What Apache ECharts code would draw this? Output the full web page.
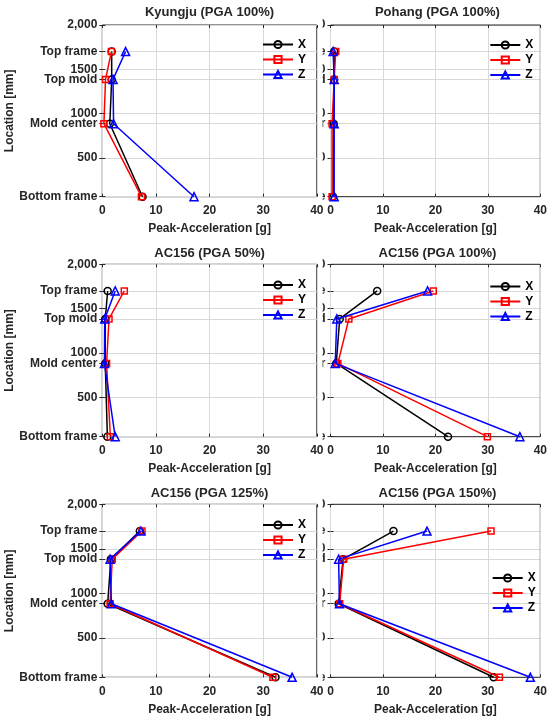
<!DOCTYPE html>
<html>
<head>
<meta charset="utf-8">
<script src="https://cdn.jsdelivr.net/npm/echarts@6/dist/echarts.min.js"></script>
<style>
html,body{margin:0;padding:0;background:#fff;}
#chart{width:550px;height:719px;}
</style>
</head>
<body>
<div id="chart"></div>
<script>
// ---- data ----
const locationNames = ['Top frame', 'Top mold', 'Mold center', 'Bottom frame'];
const locations = [1700, 1385, 885, 60];           // mm
const yTickValues = [500, 1000, 1500, 2000];
const yTickLabels = ['500', '1000', '1500', '2,000'];
const seriesNames = ['X', 'Y', 'Z'];
const titles = ['Kyungju (PGA 100%)', 'Pohang (PGA 100%)', 'AC156 (PGA 50%)',
                'AC156 (PGA 100%)', 'AC156 (PGA 125%)', 'AC156 (PGA 150%)'];

// peak acceleration [g], ordered as locationNames
const kyungjuX = [1.75, 1.75, 1.4, 7.5];
const kyungjuY = [1.7, 0.6, 0.3, 7.3];
const kyungjuZ = [4.35, 2.0, 2.1, 17.1];

const pohangX = [0.7, 0.7, 0.6, 0.5];
const pohangY = [1.0, 0.7, 0.3, 0.3];
const pohangZ = [0.5, 0.7, 0.7, 0.7];

const ac50X = [1.0, 0.55, 0.55, 0.95];
const ac50Y = [4.1, 1.25, 0.8, 1.5];
const ac50Z = [2.4, 0.45, 0.4, 2.4];

const ac100X = [8.9, 1.75, 1.1, 22.4];
const ac100Y = [19.6, 3.5, 1.4, 29.9];
const ac100Z = [18.5, 1.2, 0.9, 36.1];

const ac125X = [7.0, 1.6, 1.0, 32.3];
const ac125Y = [7.4, 1.85, 1.45, 31.8];
const ac125Z = [7.2, 1.45, 1.7, 35.4];

const ac150X = [12.0, 2.4, 1.55, 31.1];
const ac150Y = [30.6, 2.5, 1.75, 32.2];
const ac150Z = [18.4, 1.55, 1.7, 38.1];

const panelData = [
  [kyungjuX, kyungjuY, kyungjuZ],
  [pohangX, pohangY, pohangZ],
  [ac50X, ac50Y, ac50Z],
  [ac100X, ac100Y, ac100Z],
  [ac125X, ac125Y, ac125Z],
  [ac150X, ac150Y, ac150Z]
];

// ---- layout / style ----
const FONT = '"Liberation Sans", Arial, sans-serif';
const TXT = '#262626';
const rows = [{top: 25, bottom: 196.7}, {top: 264.3, bottom: 436.7}, {top: 504.3, bottom: 677.3}];
const cols = [{left: 102.3, right: 316.8}, {left: 330.5, right: 544.3}];
const legendPos = [
  {left: 262, top: 37.5}, {left: 489.3, top: 38},
  {left: 262, top: 278}, {left: 489.3, top: 279.5},
  {left: 262, top: 518}, {left: 491.7, top: 571}
];
const colors = ['#000000', '#ff0000', '#0000ff'];
const symbols = ['circle', 'rect', 'triangle'];
const symbolSizes = [7, 6, 8];

const yLabelMap = {};
yTickValues.forEach((v, i) => yLabelMap[v] = yTickLabels[i]);
locations.forEach((v, i) => yLabelMap[v] = locationNames[i]);
const yCustom = yTickValues.concat(locations);

const grid = [], xAxis = [], yAxis = [], series = [], legend = [], title = [], graphic = [];
const xMirror = [], yMirror = [];

for (let p = 0; p < 6; p++) {
  const r = rows[Math.floor(p / 2)], c = cols[p % 2];
  const isLeft = (p % 2 === 0);
  grid.push({
    left: c.left, top: r.top, width: c.right - c.left, height: r.bottom - r.top,
    show: true, borderColor: TXT, borderWidth: 1, backgroundColor: 'transparent', z: 5
  });
  xAxis.push({
    gridIndex: p, type: 'value', min: 0, max: 40, interval: 10, z: 5,
    name: 'Peak-Acceleration [g]', nameLocation: 'middle', nameGap: 25,
    nameTextStyle: {fontFamily: FONT, fontWeight: 'bold', fontSize: 12, color: TXT, lineHeight: 14},
    axisLine: {show: false},
    axisTick: {show: true, inside: true, length: 3, lineStyle: {color: TXT}},
    axisLabel: {fontFamily: FONT, fontWeight: 'bold', fontSize: 12, color: TXT, margin: 7, lineHeight: 14},
    splitLine: {show: true, lineStyle: {color: '#d9d9d9', width: 1}}
  });
  xMirror.push({
    gridIndex: p, type: 'value', position: 'top', min: 0, max: 40, interval: 10, z: 5,
    axisLine: {show: false}, axisLabel: {show: false}, splitLine: {show: false},
    axisTick: {show: true, inside: true, length: 3, lineStyle: {color: TXT}}
  });
  yAxis.push({
    gridIndex: p, type: 'value', min: 60, max: 2000, z: isLeft ? 5 : 0,
    name: isLeft ? 'Location [mm]' : '', nameLocation: 'middle', nameGap: 85,
    nameTextStyle: {fontFamily: FONT, fontWeight: 'bold', fontSize: 12, color: TXT},
    axisLine: {show: false},
    axisTick: {show: true, inside: true, length: 3, lineStyle: {color: TXT}, customValues: yCustom},
    axisLabel: {
      fontFamily: FONT, fontWeight: 'bold', fontSize: 12, color: TXT, margin: 5,
      customValues: yCustom, showMinLabel: true, showMaxLabel: true, hideOverlap: false,
      formatter: v => yLabelMap[v] !== undefined ? yLabelMap[v] : ''
    },
    splitLine: {show: true, lineStyle: {color: '#d9d9d9', width: 1}}
  });
  yMirror.push({
    gridIndex: p, type: 'value', position: 'right', min: 60, max: 2000, z: 5,
    axisLine: {show: false}, axisLabel: {show: false}, splitLine: {show: false},
    axisTick: {show: true, inside: true, length: 3, lineStyle: {color: TXT}, customValues: yCustom}
  });
  title.push({
    text: titles[p], left: (c.left + c.right) / 2, textAlign: 'center',
    top: [12.5, 253.5, 493.5][Math.floor(p / 2)] - 7, padding: 0,
    textStyle: {fontFamily: FONT, fontWeight: 'bold', fontSize: 13, color: TXT, lineHeight: 14}
  });
  legend.push({
    data: seriesNames, orient: 'vertical', left: legendPos[p].left, top: legendPos[p].top,
    padding: 0, itemGap: 1, itemWidth: 30, itemHeight: 9, z: 6,
    textStyle: {fontFamily: FONT, fontWeight: 'bold', fontSize: 12, color: '#000', lineHeight: 14},
    selectedMode: false
  });
  for (let s = 0; s < 3; s++) {
    const vals = panelData[p][s];
    series.push({
      name: seriesNames[s], type: 'line', xAxisIndex: p, yAxisIndex: p, z: 5 + s * 0.1,
      data: vals.map((v, i) => [v, locations[i]]),
      symbol: symbols[s], symbolSize: symbolSizes[s], showAllSymbol: true, clip: false,
      lineStyle: {color: colors[s], width: 1.5},
      itemStyle: {color: 'rgba(255,255,255,0)', borderColor: colors[s], borderWidth: 1.5},
      emphasis: {disabled: true}, animation: false
    });
  }
  if (!isLeft) {
    // the left panel hides most of the right panel's tick labels (as in the original figure)
    graphic.push({
      type: 'rect', silent: true, z: 1,
      shape: {x: 0, y: r.top - 9, width: 322.6, height: r.bottom - r.top + 18},
      style: {fill: '#ffffff'}
    });
  }
}

const chart = echarts.init(document.getElementById('chart'), null, {renderer: 'canvas'});
chart.setOption({
  animation: false,
  backgroundColor: '#ffffff',
  title, grid,
  xAxis: xAxis.concat(xMirror),
  yAxis: yAxis.concat(yMirror),
  series, legend, graphic
});
</script>
</body>
</html>
